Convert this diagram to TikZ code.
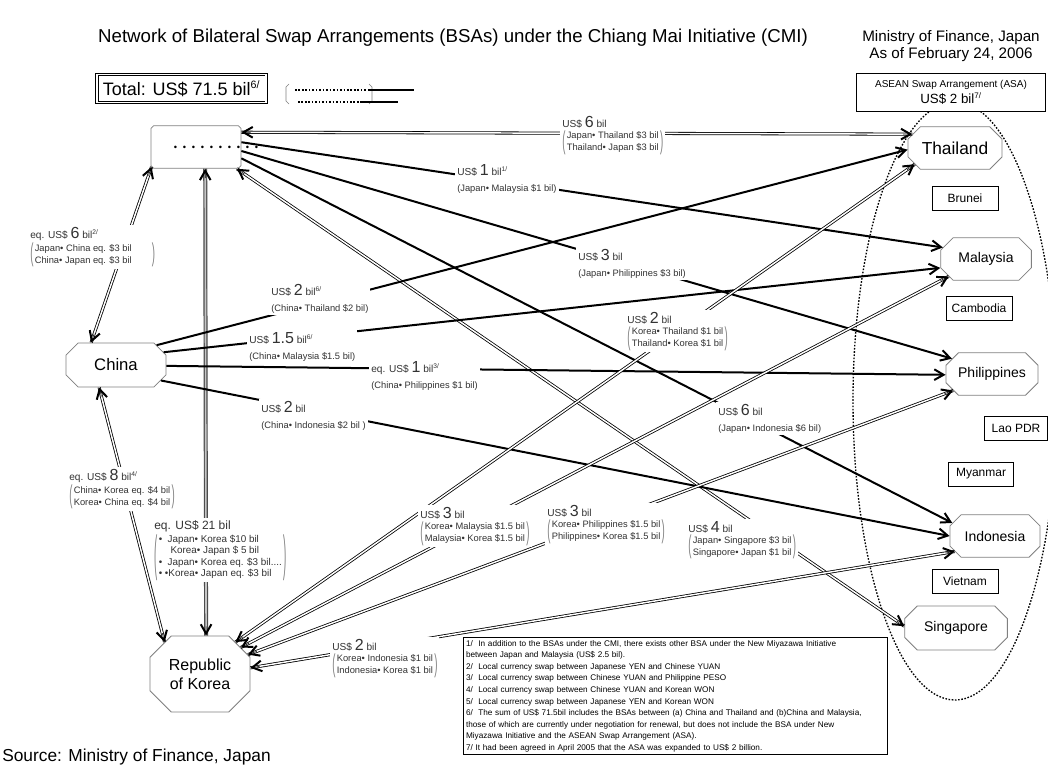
\documentclass[tikz,border=0pt]{standalone}
\usepackage{fontspec}
\usepackage{graphicx}
\setmainfont{Liberation Sans}
\usetikzlibrary{shapes.misc,arrows.meta,calc}
\newcommand\sm{\fontsize{7}{9}\selectfont}
\newcommand\smb{\fontsize{7.4}{8.6}\selectfont}
\newcommand\md{\fontsize{7.6}{9}\selectfont}
\newcommand\nb[1]{{\fontsize{12}{12}\selectfont #1}}
\newcommand\sups[1]{\textsuperscript{\fontsize{5}{5}\selectfont #1}}
\newdimen\brkh \newdimen\brka \newdimen\brkb
\newbox\brkbox \newbox\brkl \newbox\brkr
\newcommand\brk[2][\sm]{\setbox\brkbox=\hbox{#1\begin{tabular}{@{}l@{}}#2\end{tabular}}%
  \brkh=\dimexpr\ht\brkbox+\dp\brkbox\relax
  \setbox\brkl=\hbox{\resizebox*{2.4pt}{\brkh}{\color{gray}\fontsize{6}{6}\selectfont(}}%
  \setbox\brkr=\hbox{\resizebox*{2.4pt}{\brkh}{\color{gray}\fontsize{6}{6}\selectfont)}}%
  \brka=\dimexpr\dp\brkl-\dp\brkbox\relax
  \brkb=\dimexpr\dp\brkr-\dp\brkbox\relax
  \raisebox{\brka}{\box\brkl}\hspace{1pt}\box\brkbox\hspace{1pt}\raisebox{\brkb}{\box\brkr}}
\newcommand\dg{\hspace{4.3pt}}
\newcommand\dlink[3][dbl]{\draw[#1] (#2) -- (#3);
  \draw[tipst] ($(#2)!7pt!(#3)$) -- (#2);
  \draw[tipst] ($(#3)!7pt!(#2)$) -- (#3);}
\begin{document}
\begin{tikzpicture}[x=0.75pt,y=-0.75pt,
  oct/.style={chamfered rectangle, chamfered rectangle xsep=9pt, draw=gray, line width=0.6pt, fill=white, inner sep=1pt},
  ctry/.style={draw=black, line width=0.6pt, fill=white, inner sep=0pt, minimum height=18pt, font=\fontsize{9}{10}\selectfont},
  lab/.style={fill=white, inner sep=1.5pt, align=left, anchor=north west, text=black!80},
  sarrow/.style={line width=1.5pt, -{Straight Barb[length=7pt,width=8pt,line width=1.5pt]}},
  dbl/.style={draw=black, double=white, double distance=1.1pt, line width=0.6pt},
  dblg/.style={draw=gray!60!black, double=gray!45, double distance=1.2pt, line width=0.9pt},
  tipst/.style={line width=0.4pt, -{Straight Barb[length=7pt,width=8pt,line width=1.5pt]}},
]
\useasboundingbox (0,0) rectangle (1048,771);
\fill[white] (0,0) rectangle (1048,771);

% ASA ellipse
\draw[line width=1pt, dash pattern=on 1.2pt off 1.2pt] (955,401) ellipse [x radius=102, y radius=299];

% titles
\node[font=\fontsize{14}{16}\selectfont] (title) at (453,38) {Network of Bilateral Swap Arrangements (BSAs) under the Chiang Mai Initiative (CMI)};
\node[align=center, font=\fontsize{11.4}{13}\selectfont] (mof) at (951,46) {Ministry of Finance, Japan\\As of February 24, 2006};
\node[draw, double, double distance=1.3pt, line width=0.6pt, minimum width=127pt, minimum height=21pt, font=\fontsize{13.5}{14}\selectfont] (total) at (181.5,88.5) {Total: US\$ 71.5 bil\textsuperscript{\fontsize{8}{8}\selectfont 6/}};
\node[draw, line width=0.6pt, fill=white, minimum width=142pt, minimum height=29pt, align=center, inner sep=1pt] (asa) at (951,92.5) {{\fontsize{7.5}{9}\selectfont ASEAN Swap Arrangement (ASA)}\\{\fontsize{10}{11}\selectfont US\$ 2 bil\textsuperscript{\fontsize{6}{6}\selectfont 7/}}};

% legend
\draw[gray, line width=0.5pt] (289,84) -- (286,87) -- (286,101) -- (289,104);
\draw[gray, line width=0.5pt] (369,84) -- (372,87) -- (372,101) -- (369,104);
\draw[line width=1.3pt, dash pattern=on 1.2pt off 1.4pt] (295,90) -- (368,90);
\draw[line width=2pt] (368,90) -- (414,90);
\draw[line width=1.3pt, dash pattern=on 1.2pt off 1.4pt] (298,102) -- (360,102);
\draw[line width=2pt] (360,102) -- (398,102);

% country nodes
\node[oct, minimum width=67.5pt, minimum height=32pt] (jp) at (196,147) {};
\node[oct, minimum width=75pt, minimum height=33pt, font=\fontsize{12.5}{14}\selectfont] (cn) at (116,365) {China};
\node[oct, chamfered rectangle xsep=15pt, minimum width=75pt, minimum height=57pt, align=center, font=\fontsize{12}{14}\selectfont] (kr) at (200,674) {Republic\\of Korea};
\node[oct, minimum width=70.5pt, minimum height=32pt, font=\fontsize{13}{14}\selectfont] (th) at (955,148) {Thailand};
\node[oct, minimum width=68pt, minimum height=32pt, font=\fontsize{10.5}{12}\selectfont] (my) at (986,259) {Malaysia};
\node[oct, minimum width=69pt, minimum height=32pt, font=\fontsize{10.5}{12}\selectfont] (ph) at (992,374) {Philippines};
\node[oct, minimum width=67.5pt, minimum height=32pt, font=\fontsize{10.5}{12}\selectfont] (id) at (995,536) {Indonesia};
\node[oct, minimum width=77pt, minimum height=33pt, font=\fontsize{10.5}{12}\selectfont] (sg) at (956,628) {Singapore};

\node[ctry, minimum width=49.5pt] (bn) at (965,198) {Brunei};
\node[ctry, minimum width=49.5pt] (kh) at (979,308) {Cambodia};
\node[ctry, minimum width=47pt] (la) at (1016,428) {Lao PDR};
\node[ctry, minimum width=49pt] (mm) at (981,474) {Myanmar};
\node[ctry, minimum width=49.5pt] (vn) at (965,581) {Vietnam};

% connectors
\dlink{jp.18}{th.162}
\draw[sarrow] (jp.6) -- (my.165);
\draw[sarrow] (jp.-5) -- (ph.159);
\draw[sarrow] (jp.-14) -- (id.163);
\dlink[dblg]{jp.-67}{kr.81}
\dlink{jp.-28}{sg.178}
\dlink{cn.138}{jp.-156}
\draw[sarrow] (cn.26) -- (th.182);
\draw[sarrow] (cn.15) -- (my.191);
\draw[sarrow] (cn.-1) -- (ph.181);
\draw[sarrow] (cn.-19) -- (id.180);
\dlink{cn.-127}{kr.138}
\dlink{kr.42}{th.-158}
\dlink{kr.33}{my.-155}
\dlink{kr.22}{ph.-157}
\dlink{kr.7}{id.-159}

\node[font=\fontsize{7}{8}\selectfont, inner sep=0pt] (jpdots) at (216,148) {•\dg•\dg•\dg•\dg•\dg•\dg•\dg•\dg•\dg•};

% labels
\node[lab] (l1) at (560,114) {{\md US\$ \nb{6} bil}\\[1pt]\brk{Japan• Thailand \$3 bil\\Thailand• Japan \$3 bil}};
\node[lab] (l2) at (455,162) {{\md US\$ \nb{1} bil\sups{1/}}\\{\sm (Japan• Malaysia \$1 bil)}};
\node[lab] (l3) at (576,247) {{\md US\$ \nb{3} bil}\\{\sm (Japan• Philippines \$3 bil)}};
\node[lab] (l4) at (716,402) {{\md US\$ \nb{6} bil}\\{\sm (Japan• Indonesia \$6 bil)}};
\node[lab] (l5) at (28,225) {{\md eq. US\$ \nb{6} bil\sups{2/}}\\[1pt]\brk{Japan• China eq. \$3 bil\hspace*{14pt}\\China• Japan eq. \$3 bil}};
\node[lab] (l6) at (269,282) {{\md US\$ \nb{2} bil\sups{6/}}\\{\sm (China• Thailand \$2 bil)}};
\node[lab] (l7) at (247,330) {{\md US\$ \nb{1.5} bil\sups{6/}}\\{\sm (China• Malaysia \$1.5 bil)}};
\node[lab] (l8) at (369,359) {{\md eq. US\$ \nb{1} bil\sups{3/}}\\{\sm (China• Philippines \$1 bil)}};
\node[lab] (l9) at (259,399) {{\md US\$ \nb{2} bil}\\{\sm (China• Indonesia \$2 bil )}};
\node[lab] (l10) at (67,467) {{\md eq. US\$ \nb{8} bil\sups{4/}}\\[1pt]\brk{China• Korea eq. \$4 bil\\Korea• China eq. \$4 bil}};
\node[lab] (l11) at (152,518) {{\fontsize{9}{10}\selectfont eq. US\$ 21 bil}\\[1pt]\brk[\smb]{•\ \ Japan• Korea \$10 bil\\\hspace*{1.2em}Korea• Japan \$ 5 bil\\•\ \ Japan• Korea eq. \$3 bil....\\• •Korea• Japan eq. \$3 bil\hspace*{6pt}}};
\node[lab] (l12) at (625,310) {{\md US\$ \nb{2} bil}\\[1pt]\brk{Korea• Thailand \$1 bil\\Thailand• Korea \$1 bil}};
\node[lab] (l13) at (418,505) {{\md US\$ \nb{3} bil}\\[1pt]\brk{Korea• Malaysia \$1.5 bil\\Malaysia• Korea \$1.5 bil}};
\node[lab] (l14) at (545,503) {{\md US\$ \nb{3} bil}\\[1pt]\brk{Korea• Philippines \$1.5 bil\\Philippines• Korea \$1.5 bil}};
\node[lab] (l15) at (686,519) {{\md US\$ \nb{4} bil}\\[1pt]\brk{Japan• Singapore \$3 bil\\Singapore• Japan \$1 bil}};
\node[lab] (l16) at (330,637) {{\md US\$ \nb{2} bil}\\[1pt]\brk{Korea• Indonesia \$1 bil\\Indonesia• Korea \$1 bil}};

% notes
\node[draw, line width=0.6pt, fill=white, anchor=north west, align=left, text width=314pt, inner sep=2pt, font=\fontsize{6.15}{8.7}\selectfont] (notes) at (463,637) {1/\ \ In addition to the BSAs under the CMI, there exists other BSA under the New Miyazawa Initiative\\between Japan and Malaysia (US\$ 2.5 bil).\\2/\ \ Local currency swap between Japanese YEN and Chinese YUAN\\3/\ \ Local currency swap between Chinese YUAN and Philippine PESO\\4/\ \ Local currency swap between Chinese YUAN and Korean WON\\5/\ \ Local currency swap between Japanese YEN and Korean WON\\6/\ \ The sum of US\$ 71.5bil includes the BSAs between (a) China and Thailand and (b)China and Malaysia,\\those of which are currently under negotiation for renewal, but does not include the BSA under New\\Miyazawa Initiative and the ASEAN Swap Arrangement (ASA).\\7/ It had been agreed in April 2005 that the ASA was expanded to US\$ 2 billion.};

\node[anchor=west, font=\fontsize{13}{15}\selectfont, inner sep=0pt] (src) at (2,757) {Source: Ministry of Finance, Japan};
\end{tikzpicture}
\end{document}
